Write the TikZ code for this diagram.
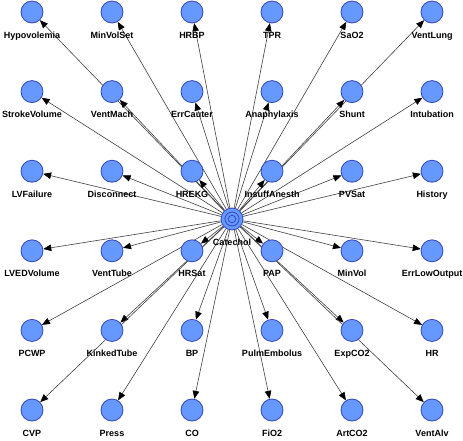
\documentclass[tikz,border=0pt]{standalone}
\usepackage{fontspec}
\setmainfont{Liberation Sans}
\usetikzlibrary{arrows.meta, backgrounds}

\definecolor{nodefill}{RGB}{102,153,255}
\definecolor{nodeline}{RGB}{51,68,187}

\begin{document}
\begin{tikzpicture}[node distance=80pt]
\tikzstyle{var} = [circle, draw=nodeline, fill=nodefill, line width=0.8pt,
    minimum size=22pt, inner sep=0pt]
\tikzstyle{every label} = [font=\bfseries\fontsize{9}{9}\selectfont,
    inner sep=0pt, text height=7pt, text depth=2pt, yshift=-7.5pt]
\tikzstyle{hub} = [var, path picture={
    \draw [nodeline, line width=0.8pt] (path picture bounding box.center)
      circle (7pt) circle (3.8pt);}]
\tikzstyle{line} = [draw, black!75, line width=0.6pt,
    -{Triangle[length=8pt, width=6.5pt, color=black]}]

\useasboundingbox (0,0) rectangle (463pt,-440pt);

 % row 1
 \node [var, label=below:Hypovolemia] (hypovolemia) at (32pt,-12pt) {};
 \node [var, right of=hypovolemia, label=below:MinVolSet] (minvolset) {};
 \node [var, right of=minvolset, label=below:HRBP] (hrbp) {};
 \node [var, right of=hrbp, label=below:TPR] (tpr) {};
 \node [var, right of=tpr, label=below:SaO2] (sao2) {};
 \node [var, right of=sao2, label=below:VentLung] (ventlung) {};

 % row 2
 \node [var, below of=hypovolemia, node distance=79.6pt, label=below:StrokeVolume] (strokevolume) {};
 \node [var, right of=strokevolume, label=below:VentMach] (ventmach) {};
 \node [var, right of=ventmach, label=below:ErrCauter] (errcauter) {};
 \node [var, right of=errcauter, label=below:Anaphylaxis] (anaphylaxis) {};
 \node [var, right of=anaphylaxis, label=below:Shunt] (shunt) {};
 \node [var, right of=shunt, label=below:Intubation] (intubation) {};

 % row 3
 \node [var, below of=strokevolume, node distance=79.6pt, label=below:LVFailure] (lvfailure) {};
 \node [var, right of=lvfailure, label=below:Disconnect] (disconnect) {};
 \node [var, right of=disconnect, label=below:HREKG] (hrekg) {};
 \node [var, right of=hrekg, label=below:InsuffAnesth] (insuffanesth) {};
 \node [var, right of=insuffanesth, label=below:PVSat] (pvsat) {};
 \node [var, right of=pvsat, label=below:History] (history) {};

 % row 4
 \node [var, below of=lvfailure, node distance=79.6pt, label=below:LVEDVolume] (lvedvolume) {};
 \node [var, right of=lvedvolume, label=below:VentTube] (venttube) {};
 \node [var, right of=venttube, label=below:HRSat] (hrsat) {};
 \node [var, right of=hrsat, label=below:PAP] (pap) {};
 \node [var, right of=pap, label=below:MinVol] (minvol) {};
 \node [var, right of=minvol, label=below:ErrLowOutput] (errlowoutput) {};

 % row 5
 \node [var, below of=lvedvolume, node distance=79.6pt, label=below:PCWP] (pcwp) {};
 \node [var, right of=pcwp, label=below:KinkedTube] (kinkedtube) {};
 \node [var, right of=kinkedtube, label=below:BP] (bp) {};
 \node [var, right of=bp, label=below:PulmEmbolus] (pulmembolus) {};
 \node [var, right of=pulmembolus, label=below:ExpCO2] (expco2) {};
 \node [var, right of=expco2, label=below:HR] (hr) {};

 % row 6
 \node [var, below of=pcwp, node distance=79.6pt, label=below:CVP] (cvp) {};
 \node [var, right of=cvp, label=below:Press] (press) {};
 \node [var, right of=press, label=below:CO] (co) {};
 \node [var, right of=co, label=below:FiO2] (fio2) {};
 \node [var, right of=fio2, label=below:ArtCO2] (artco2) {};
 \node [var, right of=artco2, label=below:VentAlv] (ventalv) {};

 \node [hub, label=below:Catechol] (catechol) at (232pt,-219pt) {};

 \begin{pgfonlayer}{background}
 \path [line] (catechol) -- (hypovolemia);
 \path [line] (catechol) -- (minvolset);
 \path [line] (catechol) -- (hrbp);
 \path [line] (catechol) -- (tpr);
 \path [line] (catechol) -- (sao2);
 \path [line] (catechol) -- (ventlung);
 \path [line] (catechol) -- (strokevolume);
 \path [line] (catechol) -- (ventmach);
 \path [line] (catechol) -- (errcauter);
 \path [line] (catechol) -- (anaphylaxis);
 \path [line] (catechol) -- (shunt);
 \path [line] (catechol) -- (intubation);
 \path [line] (catechol) -- (lvfailure);
 \path [line] (catechol) -- (disconnect);
 \path [line] (catechol) -- (hrekg);
 \path [line] (catechol) -- (insuffanesth);
 \path [line] (catechol) -- (pvsat);
 \path [line] (catechol) -- (history);
 \path [line] (catechol) -- (lvedvolume);
 \path [line] (catechol) -- (venttube);
 \path [line] (catechol) -- (hrsat);
 \path [line] (catechol) -- (pap);
 \path [line] (catechol) -- (minvol);
 \path [line] (catechol) -- (errlowoutput);
 \path [line] (catechol) -- (pcwp);
 \path [line] (catechol) -- (kinkedtube);
 \path [line] (catechol) -- (bp);
 \path [line] (catechol) -- (pulmembolus);
 \path [line] (catechol) -- (expco2);
 \path [line] (catechol) -- (hr);
 \path [line] (catechol) -- (cvp);
 \path [line] (catechol) -- (press);
 \path [line] (catechol) -- (co);
 \path [line] (catechol) -- (fio2);
 \path [line] (catechol) -- (artco2);
 \path [line] (catechol) -- (ventalv);
 \end{pgfonlayer}
\end{tikzpicture}
\end{document}
